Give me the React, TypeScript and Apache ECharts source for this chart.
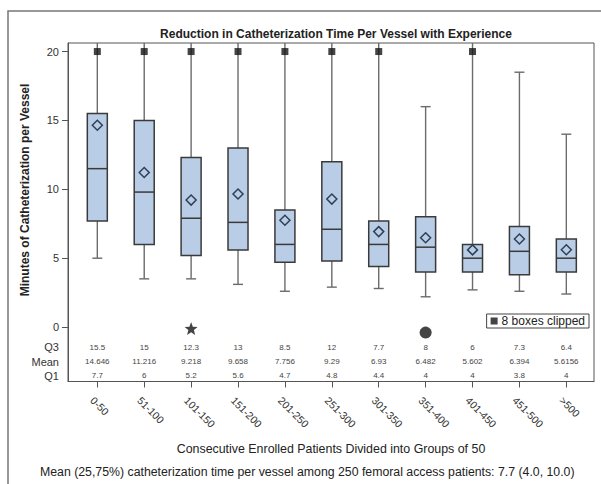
import React, { useEffect, useRef } from "react";
import * as echarts from "echarts";

// ---------- data ----------
const categories = ["0-50", "51-100", "101-150", "151-200", "201-250", "251-300", "301-350", "351-400", "401-450", "451-500", ">500"];
const whiskerLow = [5.0, 3.5, 3.5, 3.1, 2.6, 2.9, 2.8, 2.2, 2.7, 2.6, 2.4];
const q1 = [7.7, 6, 5.2, 5.6, 4.7, 4.8, 4.4, 4, 4, 3.8, 4];
const median = [11.5, 9.8, 7.9, 7.6, 6.0, 7.1, 6.0, 5.8, 5.0, 5.5, 5.0];
const q3 = [15.5, 15, 12.3, 13, 8.5, 12, 7.7, 8, 6, 7.3, 6.4];
const mean = [14.646, 11.216, 9.218, 9.658, 7.756, 9.29, 6.93, 6.482, 5.602, 6.394, 5.6156];
// null = upper whisker clipped above the axis
const whiskerHigh: (number | null)[] = [null, null, null, null, null, null, null, 16.0, null, 18.5, 14.0];
const clippedMarkerValue = 20;
const yTicks = [0, 5, 10, 15, 20];
const tableRows = ["Q3", "Mean", "Q1"];
const tableRowY = [-1.47, -2.51, -3.55];
const starOutliers = [[2, -0.1]];
const circleOutliers = [[7, -0.4]];
const Y_MIN = -3.95;
const Y_MAX = 20.62;
const X_MIN = -0.625;
const X_MAX = 10.59;

const FONT = "'Liberation Sans', Arial, sans-serif";

export default function App() {
  const ref = useRef<HTMLDivElement>(null);

  useEffect(() => {
    document.body.style.margin = "0";
    if (!ref.current) return;
    const chart = echarts.init(ref.current, null, { renderer: "svg" });

    const idx = categories.map((_, i) => i);
    const boxData = categories.map((_, i) => [
      i,
      whiskerLow[i],
      q1[i],
      median[i],
      q3[i],
      whiskerHigh[i] == null ? Y_MAX : (whiskerHigh[i] as number),
      whiskerHigh[i] == null ? 1 : 0,
      mean[i],
    ]);
    const clippedData = categories
      .map((_, i) => (whiskerHigh[i] == null ? [i, clippedMarkerValue] : null))
      .filter((d) => d != null);
    const tableText = [q3.map(String), mean.map(String), q1.map(String)];

    const whiskerColor = "#6b6b6b";
    const boxStroke = "#3a3a3a";

    const renderBox = (params: any, api: any) => {
      const i = api.value(0);
      const x = api.coord([i, 0])[0];
      const yLow = api.coord([i, api.value(1)])[1];
      const yQ1 = api.coord([i, api.value(2)])[1];
      const yMed = api.coord([i, api.value(3)])[1];
      const yQ3 = api.coord([i, api.value(4)])[1];
      const yHigh = api.coord([i, api.value(5)])[1];
      const clipped = api.value(6) === 1;
      const yMean = api.coord([i, api.value(7)])[1];
      const hw = 10;
      const cap = 5;
      const d = 5;
      const children: any[] = [
        { type: "line", shape: { x1: x, y1: yQ1, x2: x, y2: yLow }, style: { stroke: whiskerColor, lineWidth: 1.4 } },
        { type: "line", shape: { x1: x - cap, y1: yLow, x2: x + cap, y2: yLow }, style: { stroke: whiskerColor, lineWidth: 1.4 } },
        { type: "line", shape: { x1: x, y1: yQ3, x2: x, y2: yHigh }, style: { stroke: whiskerColor, lineWidth: 1.4 } },
      ];
      if (!clipped) {
        children.push({ type: "line", shape: { x1: x - cap, y1: yHigh, x2: x + cap, y2: yHigh }, style: { stroke: whiskerColor, lineWidth: 1.4 } });
      }
      children.push(
        { type: "rect", shape: { x: x - hw, y: yQ3, width: 2 * hw, height: yQ1 - yQ3 }, style: { fill: "#b9cde6", stroke: boxStroke, lineWidth: 1.5 } },
        { type: "line", shape: { x1: x - hw, y1: yMed, x2: x + hw, y2: yMed }, style: { stroke: boxStroke, lineWidth: 1.5 } },
        {
          type: "polygon",
          shape: { points: [[x, yMean - d], [x + d, yMean], [x, yMean + d], [x - d, yMean]] },
          style: { fill: "none", stroke: "#2e4155", lineWidth: 1.5 },
        }
      );
      tableRowY.forEach((v, r) => {
        const ty = api.coord([i, v])[1];
        children.push({
          type: "text",
          x,
          y: ty,
          style: { text: tableText[r][i], fontSize: 8, fill: "#444", align: "center", verticalAlign: "middle", fontFamily: FONT },
        });
      });
      return { type: "group", children };
    };

    chart.setOption({
      animation: false,
      textStyle: { fontFamily: FONT },
      title: {
        text: "Reduction in Catheterization Time Per Vessel with Experience",
        left: 331,
        top: 23,
        textAlign: "center",
        textStyle: { fontSize: 12, fontWeight: "bold", color: "#222", fontFamily: FONT },
      },
      legend: {
        data: [{ name: "8 boxes clipped", icon: "rect" }],
        right: 12,
        top: 314,
        orient: "horizontal",
        borderColor: "#444",
        borderWidth: 1,
        padding: [1, 4, 1, 4],
        itemWidth: 7,
        itemHeight: 7,
        itemGap: 4,
        textStyle: { fontSize: 12, color: "#222", fontFamily: FONT, padding: [0, 0, 0, -1] },
        selectedMode: false,
      },
      grid: { left: 68, top: 43, right: 7, bottom: 102.5, show: true, borderColor: "#555", borderWidth: 1, outerBoundsMode: "none", containLabel: false },
      xAxis: {
        type: "value",
        min: X_MIN,
        max: X_MAX,
        splitLine: { show: false },
        axisLine: { show: true, onZero: false, lineStyle: { color: "#555" } },
        axisTick: { show: true, length: 6, customValues: idx, lineStyle: { color: "#555" } },
        axisLabel: {
          customValues: idx,
          rotate: -45,
          margin: 12,
          fontSize: 10.5,
          color: "#333",
          fontFamily: FONT,
          verticalAlign: "top",
          padding: [2, 0, 0, 0],
          formatter: (v: number) => categories[Math.round(v)] ?? "",
        },
      },
      yAxis: {
        type: "value",
        min: Y_MIN,
        max: Y_MAX,
        splitLine: { show: false },
        axisLine: { show: true, onZero: false, lineStyle: { color: "#555" } },
        axisTick: { show: true, length: 6, customValues: yTicks, lineStyle: { color: "#555" } },
        axisLabel: {
          customValues: [...yTicks, ...tableRowY],
          margin: 9,
          fontSize: 11,
          color: "#333",
          fontFamily: FONT,
          formatter: (v: number) => {
            const k = tableRowY.findIndex((t) => Math.abs(t - v) < 1e-6);
            return k >= 0 ? tableRows[k] : String(v);
          },
        },
      },
      graphic: [
        { type: "polyline", shape: { points: [[8, 484], [8, 11], [601, 11]] }, style: { stroke: "#777", lineWidth: 1.5, fill: "none" }, silent: true },
        {
          type: "text",
          x: 25,
          y: 190,
          rotation: Math.PI / 2,
          style: { text: "Minutes of Catheterization per Vessel", fontSize: 12, fontWeight: "bold", fill: "#222", align: "center", verticalAlign: "middle", fontFamily: FONT },
        },
        {
          type: "text",
          x: 331,
          y: 449,
          style: { text: "Consecutive Enrolled Patients Divided into Groups of 50", fontSize: 12.4, fill: "#222", align: "center", verticalAlign: "middle", fontFamily: FONT },
        },
        {
          type: "text",
          x: 40,
          y: 472,
          style: { text: "Mean (25,75%) catheterization time per vessel among 250 femoral access patients: 7.7 (4.0, 10.0)", fontSize: 12.3, fill: "#222", align: "left", verticalAlign: "middle", fontFamily: FONT },
        },
      ],
      series: [
        {
          type: "custom",
          name: "boxes",
          renderItem: renderBox,
          data: boxData,
          encode: { x: 0, y: [1, 5] },
          clip: false,
          z: 2,
        },
        {
          type: "scatter",
          name: "8 boxes clipped",
          data: clippedData,
          symbol: "rect",
          symbolSize: 7,
          itemStyle: { color: "#151515" },
          z: 5,
        },
        {
          type: "scatter",
          name: "star",
          data: starOutliers,
          symbol: "path://M12,1 L14.9,8.6 L23,9 L16.7,14.1 L18.8,22 L12,17.6 L5.2,22 L7.3,14.1 L1,9 L9.1,8.6 Z",
          symbolSize: 13,
          itemStyle: { color: "#151515" },
          z: 5,
        },
        {
          type: "scatter",
          name: "circle",
          data: circleOutliers,
          symbol: "circle",
          symbolSize: 12,
          itemStyle: { color: "#151515" },
          z: 5,
        },
      ],
    });

    return () => chart.dispose();
  }, []);

  return <div ref={ref} style={{ width: 601, height: 484 }} />;
}
